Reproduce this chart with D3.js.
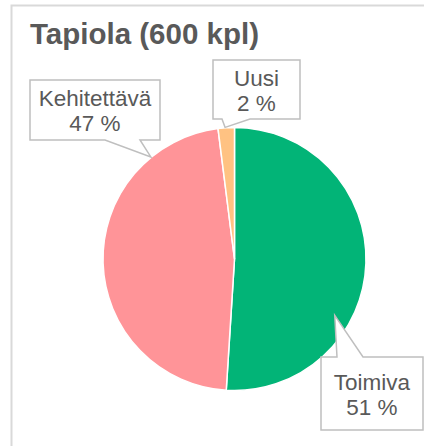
<!DOCTYPE html>
<html>
<head>
<meta charset="utf-8">
<script src="https://cdn.jsdelivr.net/npm/d3@7"></script>
<style>
  body { margin: 0; background: #fff; }
  svg { display: block; font-family: "Liberation Sans", Arial, sans-serif; }
</style>
</head>
<body>
<svg id="chart" width="424" height="446"></svg>
<script>
// data
var categories = ["Toimiva", "Kehitettävä", "Uusi"];
var shares = [51, 47, 2];
var colors = ["#02B477", "#FF9498", "#FFC282"];
var title = "Tapiola (600 kpl)";

var svg = d3.select("#chart");

// outer frame (clipped at right and bottom)
svg.append("rect")
  .attr("x", 11.5).attr("y", 5.5)
  .attr("width", 440).attr("height", 460)
  .attr("fill", "none")
  .attr("stroke", "#D9D9D9")
  .attr("stroke-width", 2);

svg.append("text")
  .attr("x", 30).attr("y", 44)
  .attr("fill", "#595959")
  .attr("font-size", 29.5)
  .attr("font-weight", "bold")
  .text(title);

var cx = 234.5, cy = 259, radius = 131.5;

var data = categories.map(function(c, i) { return {name: c, value: shares[i], color: colors[i]}; });

var pie = d3.pie()
  .sort(null)
  .value(function(d) { return d.value; });

var arc = d3.arc().innerRadius(0).outerRadius(radius);

var g = svg.append("g").attr("transform", "translate(" + cx + "," + cy + ")");

var arcs = pie(data);

g.selectAll("path")
  .data(arcs)
  .enter().append("path")
  .attr("d", arc)
  .attr("fill", function(d) { return d.data.color; })
  .attr("stroke", "#fff")
  .attr("stroke-width", 1.5);

// callout layout: box in page coords, wedge base on one edge, tip as fraction of slice + radius
var callouts = [
  {box: [321, 357, 102, 73], edge: "top", base: [337, 363], tipFrac: 0.65, tipR: 115},
  {box: [30, 80, 130, 60], edge: "bottom", base: [105, 140], tipFrac: 0.81, tipR: 132},
  {box: [213, 60, 87, 59], edge: "bottom", base: [222, 250], tipFrac: 0.43, tipR: 132}
];

function tipPoint(a, c) {
  var ang = a.startAngle + (a.endAngle - a.startAngle) * c.tipFrac;
  return [cx + Math.sin(ang) * c.tipR, cy - Math.cos(ang) * c.tipR];
}

arcs.forEach(function(a, i) {
  var c = callouts[i];
  var x = c.box[0], y = c.box[1], w = c.box[2], h = c.box[3];
  var t = tipPoint(a, c);
  var pts;
  if (c.edge === "bottom") {
    pts = [[x, y], [x + w, y], [x + w, y + h], [c.base[1], y + h], t, [c.base[0], y + h], [x, y + h]];
  } else {
    pts = [[x, y], [c.base[0], y], t, [c.base[1], y], [x + w, y], [x + w, y + h], [x, y + h]];
  }
  svg.append("path")
    .attr("d", d3.line()(pts) + "Z")
    .attr("fill", "#fff")
    .attr("stroke", "#BFBFBF")
    .attr("stroke-width", 1.5);

  var lbl = svg.append("text")
    .attr("text-anchor", "middle")
    .attr("fill", "#595959")
    .attr("font-size", 22.5);
  lbl.append("tspan")
    .attr("x", x + w / 2).attr("y", y + h / 2 - 4)
    .text(a.data.name);
  lbl.append("tspan")
    .attr("x", x + w / 2).attr("y", y + h / 2 + 21)
    .text(a.data.value + " %");
});
</script>
</body>
</html>
